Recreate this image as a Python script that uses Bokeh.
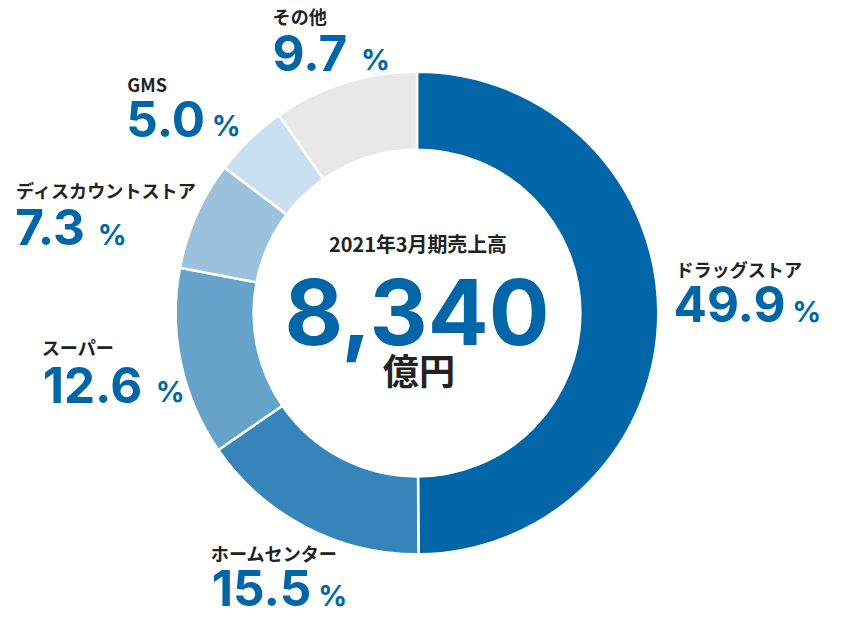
import math
from bokeh.plotting import figure
from bokeh.models import ColumnDataSource, Range1d
from bokeh.core.properties import value
from bokeh.embed import file_html
from bokeh.resources import INLINE

# ---- data ----
categories = ["ドラッグストア", "ホームセンター", "スーパー", "ディスカウントストア", "GMS", "その他"]
shares = [49.9, 15.5, 12.6, 7.3, 5.0, 9.7]
colors = ["#0066a8", "#3585bb", "#66a3ca", "#9bc1dc", "#cadfef", "#e8e8e8"]
title_text = "2021年3月期売上高"
total_text = "8,340"
unit_text = "億円"

# ---- layout (reference pixel coordinates, y measured downward) ----
S = 0.95
W, H = 833, 619
REF_H = 635
def Y(yref):
    return REF_H - yref

# baseline corrections (fraction of font size) observed for the fonts
JP_K = 0.45
VAL_K = 0.37
PCT_K = 0.40
TOT_K = 0.31

CX, CY = 425, 323
R_OUT, R_IN = 254, 172

FS_LAB, FS_VAL, FS_PCT = 19, 52, 30
FS_TITLE, FS_TOTAL, FS_UNIT = 21, 95, 38

label_xy = [(697, 285), (208, 584), (30, 367), (3, 202), (120, 90), (273, 19)]
value_xy = [(695, 333), (209, 632), (31, 418), (2, 252), (119, 138), (273, 68)]
pct_xy = [(820, 333), (321, 632), (150, 418), (89, 252), (209, 138), (366, 68)]

JP = "Noto Sans CJK JP"
NUM = "Inter"
BLUE = "#0066a8"
DARK = "#222222"

xr = Range1d(425 - W / S / 2, 425 + W / S / 2)
y_top = 641.0
yr = Range1d(y_top - H / S, y_top)

p = figure(width=W, height=H, x_range=xr, y_range=yr, output_backend="svg",
           toolbar_location=None, min_border=0)
p.axis.visible = False
p.grid.visible = False
p.outline_line_color = None
p.background_fill_color = "white"
p.border_fill_color = "white"

total = sum(shares)
starts, ends = [], []
cum = 0.0
for s in shares:
    starts.append(math.pi / 2 - 2 * math.pi * cum / total)
    cum += s
    ends.append(math.pi / 2 - 2 * math.pi * cum / total)

src = ColumnDataSource(dict(start=starts, end=ends, color=colors, cat=categories, share=shares))
p.annular_wedge(x=CX, y=Y(CY), inner_radius=R_IN, outer_radius=R_OUT,
                start_angle="start", end_angle="end", direction="clock",
                fill_color="color", line_color="white", line_width=2.5, source=src)

lab_src = ColumnDataSource(dict(
    x=[a for a, b in label_xy], y=[Y(b - JP_K * FS_LAB) for a, b in label_xy], t=categories))
p.text(x="x", y="y", text="t", source=lab_src, text_font=value(JP),
       text_font_style="bold", text_font_size=f"{FS_LAB*S:.1f}px", text_color=DARK,
       text_baseline="alphabetic", text_align="left")

val_src = ColumnDataSource(dict(
    x=[a for a, b in value_xy], y=[Y(b - VAL_K * FS_VAL) for a, b in value_xy],
    t=[f"{v:.1f}" for v in shares]))
p.text(x="x", y="y", text="t", source=val_src, text_font=value(NUM),
       text_font_style="bold", text_font_size=f"{FS_VAL*S:.1f}px", text_color=BLUE,
       text_baseline="alphabetic", text_align="left")

pct_src = ColumnDataSource(dict(
    x=[a for a, b in pct_xy], y=[Y(b - PCT_K * FS_PCT) for a, b in pct_xy], t=["%"] * len(shares)))
p.text(x="x", y="y", text="t", source=pct_src, text_font=value(NUM),
       text_font_style="bold", text_font_size=f"{FS_PCT*S:.1f}px", text_color=BLUE,
       text_baseline="alphabetic", text_align="left")

p.text(x=[426], y=[Y(259 - JP_K * FS_TITLE)], text=[title_text], text_font=value(JP),
       text_font_style="bold", text_font_size=f"{FS_TITLE*S:.1f}px", text_color=DARK,
       text_baseline="alphabetic", text_align="center")
p.text(x=[425], y=[Y(351 - TOT_K * FS_TOTAL)], text=[total_text], text_font=value(NUM),
       text_font_style="bold", text_font_size=f"{FS_TOTAL*S:.1f}px", text_color=BLUE,
       text_baseline="alphabetic", text_align="center")
p.text(x=[427], y=[Y(399 - JP_K * FS_UNIT)], text=[unit_text], text_font=value(JP),
       text_font_style="bold", text_font_size=f"{FS_UNIT*S:.1f}px", text_color=DARK,
       text_baseline="alphabetic", text_align="center")

open("out.html", "w").write(file_html(p, INLINE))
